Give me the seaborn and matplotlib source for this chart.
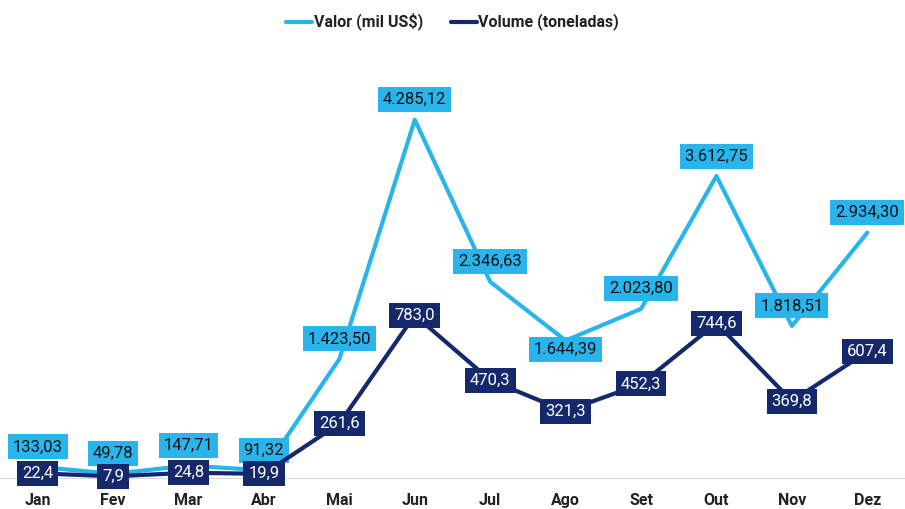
#! /usr/bin/env python
# Valor e volume mensais - duas linhas com eixos gemeos
import matplotlib.pyplot as plt
from matplotlib.lines import Line2D
import pandas as pd
import seaborn as sns

# settings
sns.set_style("white")
plt.rcParams['font.family'] = ['Roboto', 'DejaVu Sans']

# DATA
meses = ['Jan', 'Fev', 'Mar', 'Abr', 'Mai', 'Jun', 'Jul', 'Ago', 'Set', 'Out', 'Nov', 'Dez']
valor = [133.03, 49.78, 147.71, 91.32, 1423.50, 4285.12, 2346.63, 1644.39, 2023.80, 3612.75, 1818.51, 2934.30]
volume = [22.4, 7.9, 24.8, 19.9, 261.6, 783.0, 470.3, 321.3, 452.3, 744.6, 369.8, 607.4]

cor_valor = '#29B5EC'
cor_volume = '#14286B'

def br(v, casas):
    s = f'{v:,.{casas}f}'
    return s.replace(',', 'X').replace('.', ',').replace('X', '.')

df = pd.DataFrame({'mes': meses, 'valor': valor, 'volume': volume})

fig = plt.figure(figsize=(9.05, 5.09), dpi=100)
ax = fig.add_axes([0.0, 0.061, 1.0, 0.821])
ax2 = ax.twinx()

sns.lineplot(data=df, x='mes', y='valor', ax=ax, color=cor_valor, linewidth=3, sort=False)
sns.lineplot(data=df, x='mes', y='volume', ax=ax2, color=cor_volume, linewidth=3, sort=False)

ax.set_ylim(0, 5000)
ax2.set_ylim(0, 2010)
ax.set_xlim(-0.5, len(meses) - 0.5)

# rotulos de dados
for i, v in enumerate(valor):
    dy = -9 if meses[i] == 'Ago' else 20
    ax.annotate(br(v, 2), (i, v), xytext=(0, dy), textcoords='offset pixels',
                ha='center', va='center', fontsize=12, color='#111111',
                bbox=dict(boxstyle='square,pad=0.3', fc=cor_valor, ec='none'))
for i, v in enumerate(volume):
    ax2.annotate(br(v, 1), (i, v), xytext=(0, 0), textcoords='offset pixels',
                 ha='center', va='center', fontsize=12, color='white',
                 bbox=dict(boxstyle='square,pad=0.3', fc=cor_volume, ec='none'))

for a in (ax, ax2):
    a.set_xlabel('')
    a.set_ylabel('')
    a.set_yticks([])
    for s in ['top', 'left', 'right']:
        a.spines[s].set_visible(False)
    a.spines['bottom'].set_color('#D9D9D9')
ax2.spines['bottom'].set_visible(False)

ax.set_xticks(range(len(meses)))
ax.set_xticklabels(meses, fontsize=11.5, fontweight='bold', color='#222222')
ax.tick_params(axis='x', length=0, pad=11)

handles = [Line2D([], [], color=cor_valor, linewidth=3, label='Valor (mil US$)'),
           Line2D([], [], color=cor_volume, linewidth=3, label='Volume (toneladas)')]
leg = fig.legend(handles=handles, loc='center', bbox_to_anchor=(0.5, 0.958), ncol=2,
                 frameon=False, handlelength=1.9, handletextpad=0.1, columnspacing=2.0)
for t in leg.get_texts():
    t.set_fontweight('bold')
    t.set_fontsize(11.5)
    t.set_color('#222222')

fig.savefig('out.png', dpi=100)
plt.close()
